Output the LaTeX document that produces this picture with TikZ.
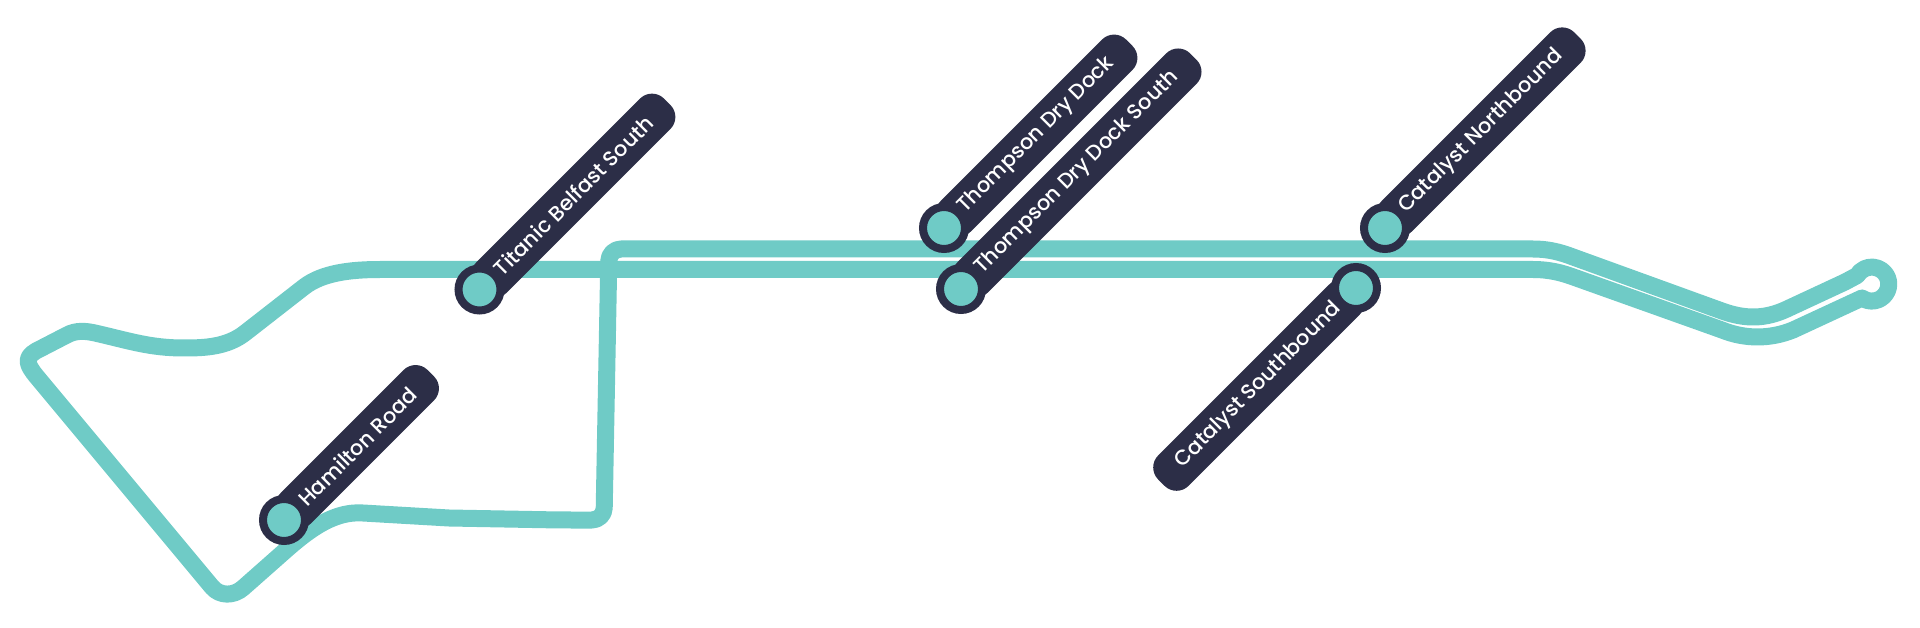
\documentclass[tikz,border=0pt]{standalone}
\usepackage{fontspec}
\setmainfont{Poppins}[UprightFont=* Medium]
\definecolor{routeteal}{HTML}{6FCBC6}
\definecolor{stopnavy}{HTML}{2C2E47}

\begin{document}
\begin{tikzpicture}[x=1pt,y=-1pt,
route/.style={draw=routeteal,line width=17pt,line join=round},
stoplabel/.style={rectangle,fill=stopnavy,text=white,rounded corners=17pt,rotate=45,minimum height=43pt,inner xsep=25pt,inner ysep=0pt,font=\fontsize{21}{21}\selectfont},
stopdot/.style={circle,fill=routeteal,draw=stopnavy,line width=8pt,minimum size=42pt,inner sep=0pt}]
\useasboundingbox (0,0) rectangle (1920,628);

\draw[route]
(380,269.5) -- (1533,269.5)
.. controls (1550,269.5) and (1562,273) .. (1572,276.5) -- (1722,330)
.. controls (1745,339.3) and (1770,339.3) .. (1793,330) -- (1862,298)
arc[start angle=125,end angle=-150,radius=17] -- (1845,282) -- (1787,309)
.. controls (1765,319.3) and (1745,319.3) .. (1722,311) -- (1573,257)
.. controls (1560,252) and (1548,249) .. (1533,249) -- (640,249)
[rounded corners=12pt] -- (609,249) -- (604,520) -- (560,520) [sharp corners]
-- (449,518) -- (363,513)
.. controls (335,511) and (311,528) .. (286,550) -- (243,588)
.. controls (234,596) and (220,596.6) .. (212,587) -- (37,377)
.. controls (27,365) and (24,358) .. (36,351) -- (67,335)
.. controls (76,330) and (86,331) .. (95,333)
.. controls (130,341) and (150,348) .. (184,348)
.. controls (205,348) and (227,347) .. (245,333) -- (304,287)
.. controls (322,273) and (350,269.5) .. (380,269.5) -- cycle;

\node[stoplabel,anchor=west] (hamiltonlabel) at (284,520) {Hamilton Road};
\node[stopdot] (hamilton) at (hamiltonlabel.west) {};
\node[stoplabel,anchor=west] (titaniclabel) at (479.5,289.5) {Titanic Belfast South};
\node[stopdot] (titanic) at (titaniclabel.west) {};
\node[stoplabel,anchor=west] (docklabel) at (944,228) {Thompson Dry Dock};
\node[stopdot] (dock) at (docklabel.west) {};
\node[stoplabel,anchor=west] (docksouthlabel) at (961,289) {Thompson Dry Dock South};
\node[stopdot] (docksouth) at (docksouthlabel.west) {};
\node[stoplabel,anchor=west] (northlabel) at (1385,228) {Catalyst Northbound};
\node[stopdot] (north) at (northlabel.west) {};
\node[stoplabel,anchor=east] (southlabel) at (1356,288) {Catalyst Southbound};
\node[stopdot] (south) at (southlabel.east) {};
\end{tikzpicture}
\end{document}
